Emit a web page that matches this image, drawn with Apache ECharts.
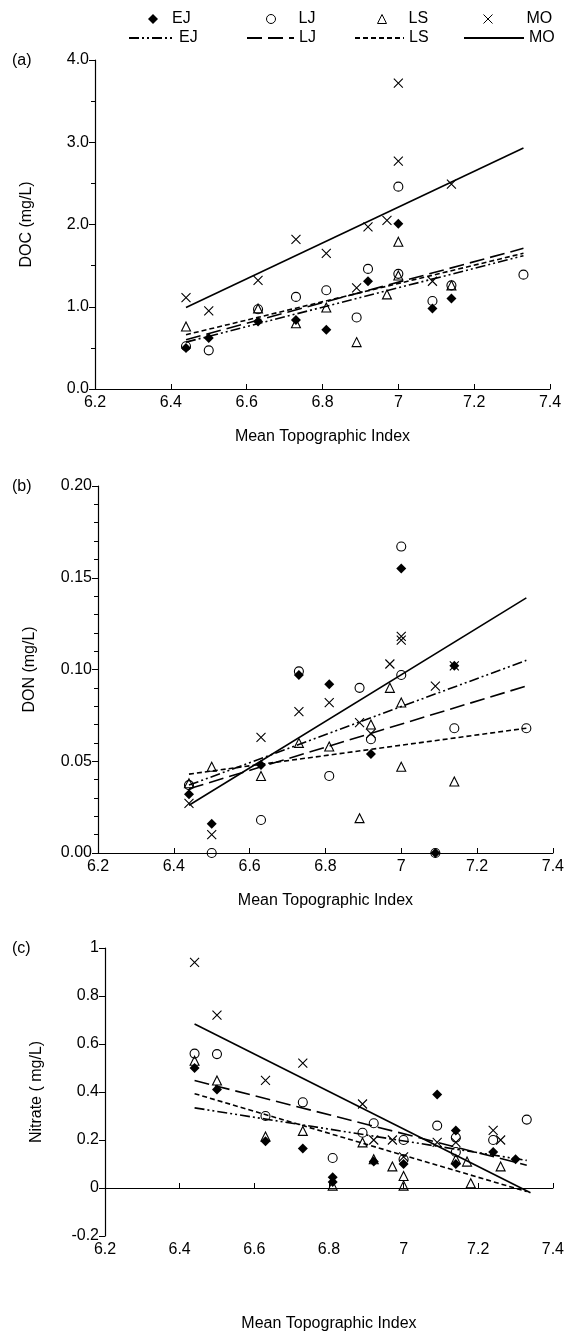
<!DOCTYPE html>
<html><head><meta charset="utf-8">
<script src="https://cdn.jsdelivr.net/npm/echarts@6/dist/echarts.min.js"></script>
<style>html,body{margin:0;padding:0;background:#fff}#c{width:567px;height:1333px}</style>
</head><body><div id="c"></div>
<script>
const groups = ['EJ', 'LJ', 'LS', 'MO'];
const xTickRange = [6.2, 7.4, 0.2];

// Panel (a) DOC (mg/L)
const docEJ = [[6.44,0.50],[6.50,0.62],[6.63,0.82],[6.73,0.84],[6.81,0.72],[6.92,1.31],[7.0,2.01],[7.09,0.98],[7.14,1.10]];
const docLJ = [[6.44,0.52],[6.50,0.47],[6.63,0.97],[6.73,1.12],[6.81,1.20],[6.89,0.87],[6.92,1.46],[7.0,2.46],[7.0,1.40],[7.09,1.07],[7.14,1.26],[7.33,1.39]];
const docLS = [[6.44,0.76],[6.63,0.98],[6.73,0.80],[6.81,0.99],[6.89,0.57],[6.97,1.15],[7.0,1.79],[7.0,1.38],[7.14,1.26]];
const docMO = [[6.44,1.11],[6.50,0.95],[6.63,1.32],[6.73,1.82],[6.81,1.65],[6.89,1.23],[6.92,1.97],[6.97,2.05],[7.0,3.72],[7.0,2.77],[7.09,1.31],[7.14,2.49]];
const docFitEJ = [[6.44,0.57],[7.33,1.62]];
const docFitLJ = [[6.44,0.60],[7.33,1.71]];
const docFitLS = [[6.44,0.66],[7.33,1.65]];
const docFitMO = [[6.44,0.99],[7.33,2.93]];

// Panel (b) DON (mg/L)
const donEJ = [[6.44,0.032],[6.50,0.016],[6.63,0.048],[6.73,0.097],[6.81,0.092],[6.92,0.054],[7.0,0.155],[7.09,0.0],[7.14,0.102]];
const donLJ = [[6.44,0.037],[6.50,0.0],[6.63,0.018],[6.73,0.099],[6.81,0.042],[6.89,0.090],[6.92,0.062],[7.0,0.167],[7.0,0.097],[7.09,0.0],[7.14,0.068],[7.33,0.068]];
const donLS = [[6.44,0.038],[6.50,0.047],[6.63,0.042],[6.73,0.060],[6.81,0.058],[6.89,0.019],[6.92,0.070],[6.97,0.090],[7.0,0.082],[7.0,0.047],[7.14,0.039]];
const donMO = [[6.44,0.027],[6.50,0.010],[6.63,0.063],[6.73,0.077],[6.81,0.082],[6.89,0.071],[6.92,0.065],[6.97,0.103],[7.0,0.118],[7.0,0.116],[7.09,0.091],[7.14,0.102]];
const donFitEJ = [[6.44,0.037],[7.33,0.105]];
const donFitLJ = [[6.44,0.035],[7.33,0.091]];
const donFitLS = [[6.44,0.043],[7.33,0.068]];
const donFitMO = [[6.44,0.026],[7.33,0.139]];

// Panel (c) Nitrate (mg/L)
const no3EJ = [[6.44,0.50],[6.50,0.41],[6.63,0.195],[6.73,0.165],[6.81,0.045],[6.81,0.025],[6.92,0.11],[7.0,0.10],[7.09,0.39],[7.14,0.24],[7.14,0.10],[7.24,0.15],[7.30,0.12]];
const no3LJ = [[6.44,0.56],[6.50,0.558],[6.63,0.30],[6.73,0.357],[6.81,0.125],[6.89,0.23],[6.92,0.27],[7.0,0.20],[7.0,0.12],[7.09,0.26],[7.14,0.21],[7.14,0.15],[7.24,0.20],[7.33,0.285]];
const no3LS = [[6.44,0.53],[6.50,0.448],[6.63,0.215],[6.73,0.238],[6.81,0.01],[6.89,0.19],[6.92,0.12],[6.97,0.09],[7.0,0.05],[7.0,0.01],[7.14,0.12],[7.17,0.11],[7.18,0.02],[7.26,0.09]];
const no3MO = [[6.44,0.94],[6.50,0.72],[6.63,0.448],[6.73,0.52],[6.89,0.35],[6.92,0.20],[6.97,0.20],[7.0,0.13],[7.09,0.19],[7.14,0.19],[7.24,0.24],[7.26,0.20]];
const no3FitEJ = [[6.44,0.334],[7.33,0.115]];
const no3FitLJ = [[6.44,0.448],[7.33,0.095]];
const no3FitLS = [[6.44,0.393],[7.33,-0.015]];
const no3FitMO = [[6.44,0.683],[7.34,-0.02]];

const panels = [
  {label:'(a)', yName:'DOC (mg/L)', ymin:0, ymax:4, yint:1, dec:1, minor:true, minorSplit:2,
   pts:[docEJ,docLJ,docLS,docMO], fits:[docFitEJ,docFitLJ,docFitLS,docFitMO]},
  {label:'(b)', yName:'DON (mg/L)', ymin:0, ymax:0.2, yint:0.05, dec:2, minor:true, minorSplit:5,
   pts:[donEJ,donLJ,donLS,donMO], fits:[donFitEJ,donFitLJ,donFitLS,donFitMO]},
  {label:'(c)', yName:'Nitrate ( mg/L)', ymin:-0.2, ymax:1, yint:0.2, dec:null, minor:false,
   pts:[no3EJ,no3LJ,no3LS,no3MO], fits:[no3FitEJ,no3FitLJ,no3FitLS,no3FitMO]}
];

const FONT = 'Liberation Sans, Arial, Helvetica, sans-serif';
const grids = [
  {left:95, width:455, top:60, height:329},
  {left:98, width:455, top:486, height:367},
  {left:105, width:451, top:948, height:346}
];
const XPATH = 'path://M0,0L10,10M10,0L0,10';
const symbols = ['diamond', 'circle', 'triangle', XPATH];
const symSizes = [10, 9, 9, 9];
const symFill = ['#000', 'rgba(0,0,0,0)', 'rgba(0,0,0,0)', 'rgba(0,0,0,0)'];
const dashes = [[10,3,2,3,2,3], [15,6], [5,3], 'solid'];

const xAxes = [], yAxes = [], series = [], graphics = [];
panels.forEach((p, i) => {
  xAxes.push({
    type:'value', gridIndex:i, min:xTickRange[0], max:xTickRange[1], interval:xTickRange[2],
    axisLine:{onZero:true, lineStyle:{color:'#000', width:1.2}},
    axisTick:{inside:true, length:5, lineStyle:{color:'#000'}},
    axisLabel:{color:'#000', fontSize:16, fontFamily:FONT, margin:6},
    splitLine:{show:false},
    name:'Mean Topographic Index', nameLocation:'middle', nameGap: i===2 ? 80 : 40,
    nameTextStyle:{color:'#000', fontSize:16, fontFamily:FONT}
  });
  yAxes.push({
    type:'value', gridIndex:i, min:p.ymin, max:p.ymax, interval:p.yint,
    axisLine:{show:true, lineStyle:{color:'#000', width:1.2}},
    axisTick:{show:true, inside:false, length:6, lineStyle:{color:'#000'}},
    minorTick:{show:p.minor, splitNumber:p.minorSplit||5, length:4, lineStyle:{color:'#000'}},
    axisLabel:{color:'#000', fontSize:16, fontFamily:FONT, margin:6,
      formatter: v => p.dec === null ? String(Math.round(v*10)/10) : v.toFixed(p.dec)},
    splitLine:{show:false},
    name:p.yName, nameLocation:'middle', nameGap:60, nameRotate:90,
    nameTextStyle:{color:'#000', fontSize:16, fontFamily:FONT}
  });
  p.pts.forEach((d, k) => {
    series.push({
      type:'scatter', name:groups[k], xAxisIndex:i, yAxisIndex:i, data:d,
      symbol:symbols[k], symbolSize:symSizes[k],
      itemStyle:{color:symFill[k], borderColor:'#000', borderWidth: k===0 ? 0 : 1.1, opacity:1},
      z: 3
    });
  });
  p.fits.forEach((d, k) => {
    series.push({
      type:'line', name:groups[k] + ' fit', xAxisIndex:i, yAxisIndex:i, data:d,
      symbol:'none', showSymbol:false,
      lineStyle:{color:'#000', width:1.6, type:dashes[k]},
      itemStyle:{color:'#000'}, z:2
    });
  });
  graphics.push({type:'text', left:12, top:grids[i].top - 7,
    style:{text:p.label, fill:'#000', font:'16px ' + FONT}});
});

const legendPos = [
  {name:'EJ', left:143, top:6, w:10, pad:9, line:false},
  {name:'LJ', left:261, top:6, w:9, pad:18, line:false},
  {name:'LS', left:372, top:6, w:9, pad:17, line:false},
  {name:'MO', left:478, top:6, w:9, pad:29, line:false},
  {name:'EJ fit', left:123, top:25, w:45, pad:0, line:true},
  {name:'LJ fit', left:241, top:25, w:47, pad:0, line:true},
  {name:'LS fit', left:349, top:25, w:49, pad:0, line:true},
  {name:'MO fit', left:458, top:25, w:60, pad:0, line:true}
];
const legends = legendPos.map(l => {
  const lg = {
    data:[l.name], left:l.left, top:l.top, itemWidth:l.w, itemHeight:l.line ? 10 : l.w, itemGap:4,
    selectedMode:false, formatter: n => n.replace(' fit', ''),
    textStyle:{color:'#000', fontSize:16, fontFamily:FONT, padding:[0,0,0,l.pad]}
  };
  if (l.line) lg.itemStyle = {color:'rgba(0,0,0,0)', borderColor:'rgba(0,0,0,0)', borderWidth:0, opacity:0};
  else lg.itemStyle = {borderWidth: l.name === 'EJ' ? 0 : 1};
  return lg;
});

const chart = echarts.init(document.getElementById('c'), null, {renderer:'canvas'});
chart.setOption({
  animation:false, backgroundColor:'#fff',
  grid:grids, xAxis:xAxes, yAxis:yAxes, series:series, legend:legends, graphic:graphics
});
</script></body></html>
